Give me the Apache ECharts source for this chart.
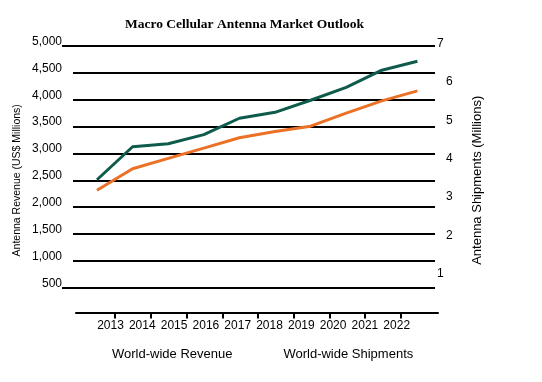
<!DOCTYPE html>
<html>
<head>
<meta charset="utf-8">
<script src="https://cdn.jsdelivr.net/npm/echarts@6/dist/echarts.min.js"></script>
<style>html,body{margin:0;padding:0;background:#fff}#c{width:542px;height:382px}</style>
</head>
<body>
<div id="c"></div>
<script>
const years = [2013, 2014, 2015, 2016, 2017, 2018, 2019, 2020, 2021, 2022];
const revenue = [2510, 3125, 3180, 3350, 3655, 3765, 3990, 4230, 4550, 4715];
const shipments = [3.24, 3.80, 4.07, 4.34, 4.61, 4.77, 4.91, 5.25, 5.57, 5.83];
const revenueTicks = [0, 500, 1000, 1500, 2000, 2500, 3000, 3500, 4000, 4500, 5000];
const shipmentTicks = [0, 1, 2, 3, 4, 5, 6, 7];
const seriesNames = ['World-wide Revenue', 'World-wide Shipments'];
const titleText = 'Macro Cellular Antenna Market Outlook';

const FONT = 'Liberation Sans, Arial, sans-serif';
const fmt = v => String(v).replace(/\B(?=(\d{3})+(?!\d))/g, ',');

const chart = echarts.init(document.getElementById('c'), null, {renderer: 'canvas'});
chart.setOption({
  animation: false,
  backgroundColor: '#fff',
  title: {
    text: titleText, left: 120, top: 13,
    textStyle: {fontFamily: 'Liberation Serif, Times New Roman, serif', fontWeight: 'bold', fontSize: 13.5, color: '#000'}
  },
  legend: {
    data: seriesNames, left: 102, top: 342, icon: 'none', itemWidth: 0, itemGap: 46,
    textStyle: {fontFamily: FONT, fontSize: 13, color: '#000'}
  },
  grid: [
    {left: 73, right: 107, top: 46, bottom: 67.4},
    {left: 76, right: 104, top: 46, bottom: 69.5}
  ],
  xAxis: [
    {gridIndex: 0, type: 'value', min: 2012.326, max: 2022.494, show: false},
    {gridIndex: 0, type: 'value', min: 2011.821, max: 2023.204, position: 'bottom',
      axisLine: {show: false}, axisTick: {show: false}, splitLine: {show: false},
      axisLabel: {customValues: years, formatter: v => String(v), fontFamily: FONT, fontSize: 12, color: '#000', margin: 5}},
    {gridIndex: 1, type: 'value', min: 2012.409, max: 2022.535, position: 'bottom',
      axisLine: {show: true, lineStyle: {color: '#000', width: 2}},
      axisTick: {show: true, customValues: years.slice(0, -1).map(y => y + 0.5), length: 6, inside: false, lineStyle: {color: '#000', width: 2}},
      axisLabel: {show: false}, splitLine: {show: false}}
  ],
  yAxis: [
    {gridIndex: 0, type: 'value', min: revenueTicks[0], max: revenueTicks[revenueTicks.length - 1], interval: 500,
      name: 'Antenna Revenue (US$ Millions)', nameLocation: 'middle', nameRotate: 90, nameGap: 50, nameMoveOverlap: false,
      nameTextStyle: {fontFamily: FONT, fontSize: 10.5, color: '#000'},
      axisLine: {show: false},
      axisTick: {show: false},
      axisLabel: {formatter: v => v === 0 ? '' : '{p|' + fmt(v) + '}', fontFamily: FONT, fontSize: 12, color: '#000', margin: 11,
        rich: {p: {fontFamily: FONT, fontSize: 12, color: '#000', padding: [0, 0, 9, 0]}}},
      splitLine: {show: true, showMinLine: false, lineStyle: {color: '#000', width: 2}}},
    {gridIndex: 0, type: 'value', min: shipmentTicks[0], max: shipmentTicks[shipmentTicks.length - 1], interval: 1, position: 'right',
      name: 'Antenna Shipments (Millions)', nameLocation: 'middle', nameRotate: 90, nameGap: 36, nameMoveOverlap: false,
      nameTextStyle: {fontFamily: FONT, fontSize: 13, color: '#000'},
      axisLine: {show: false}, axisTick: {show: false}, splitLine: {show: false},
      axisLabel: {
        formatter: v => v === 0 ? '' : ((v === 7 || v === 1) ? '{a|' + v + '}' : '{b|' + v + '}'),
        fontFamily: FONT, fontSize: 12, color: '#000', margin: 2,
        rich: {a: {fontFamily: FONT, fontSize: 12, color: '#000', padding: [0, 0, 5, 0]}, b: {fontFamily: FONT, fontSize: 12, color: '#000', padding: [0, 0, 5, 9]}}
      }},
    {gridIndex: 1, type: 'value', min: 0, max: 1, show: false},
    {gridIndex: 0, type: 'value', min: revenueTicks[0], max: revenueTicks[revenueTicks.length - 1], position: 'left',
      axisLine: {show: false}, axisLabel: {show: false}, splitLine: {show: false},
      axisTick: {show: true, customValues: [500, 5000], length: 11, inside: false, lineStyle: {color: '#000', width: 2}}}
  ],
  series: [
    {name: seriesNames[0], type: 'line', xAxisIndex: 0, yAxisIndex: 0, symbol: 'none',
      data: revenue.map((v, i) => [years[i], v]),
      lineStyle: {color: '#0e5b4b', width: 3}, itemStyle: {color: '#0e5b4b'}},
    {name: seriesNames[1], type: 'line', xAxisIndex: 0, yAxisIndex: 1, symbol: 'none',
      data: shipments.map((v, i) => [years[i], v]),
      lineStyle: {color: '#ea7125', width: 3}, itemStyle: {color: '#ea7125'}}
  ]
});
</script>
</body>
</html>
